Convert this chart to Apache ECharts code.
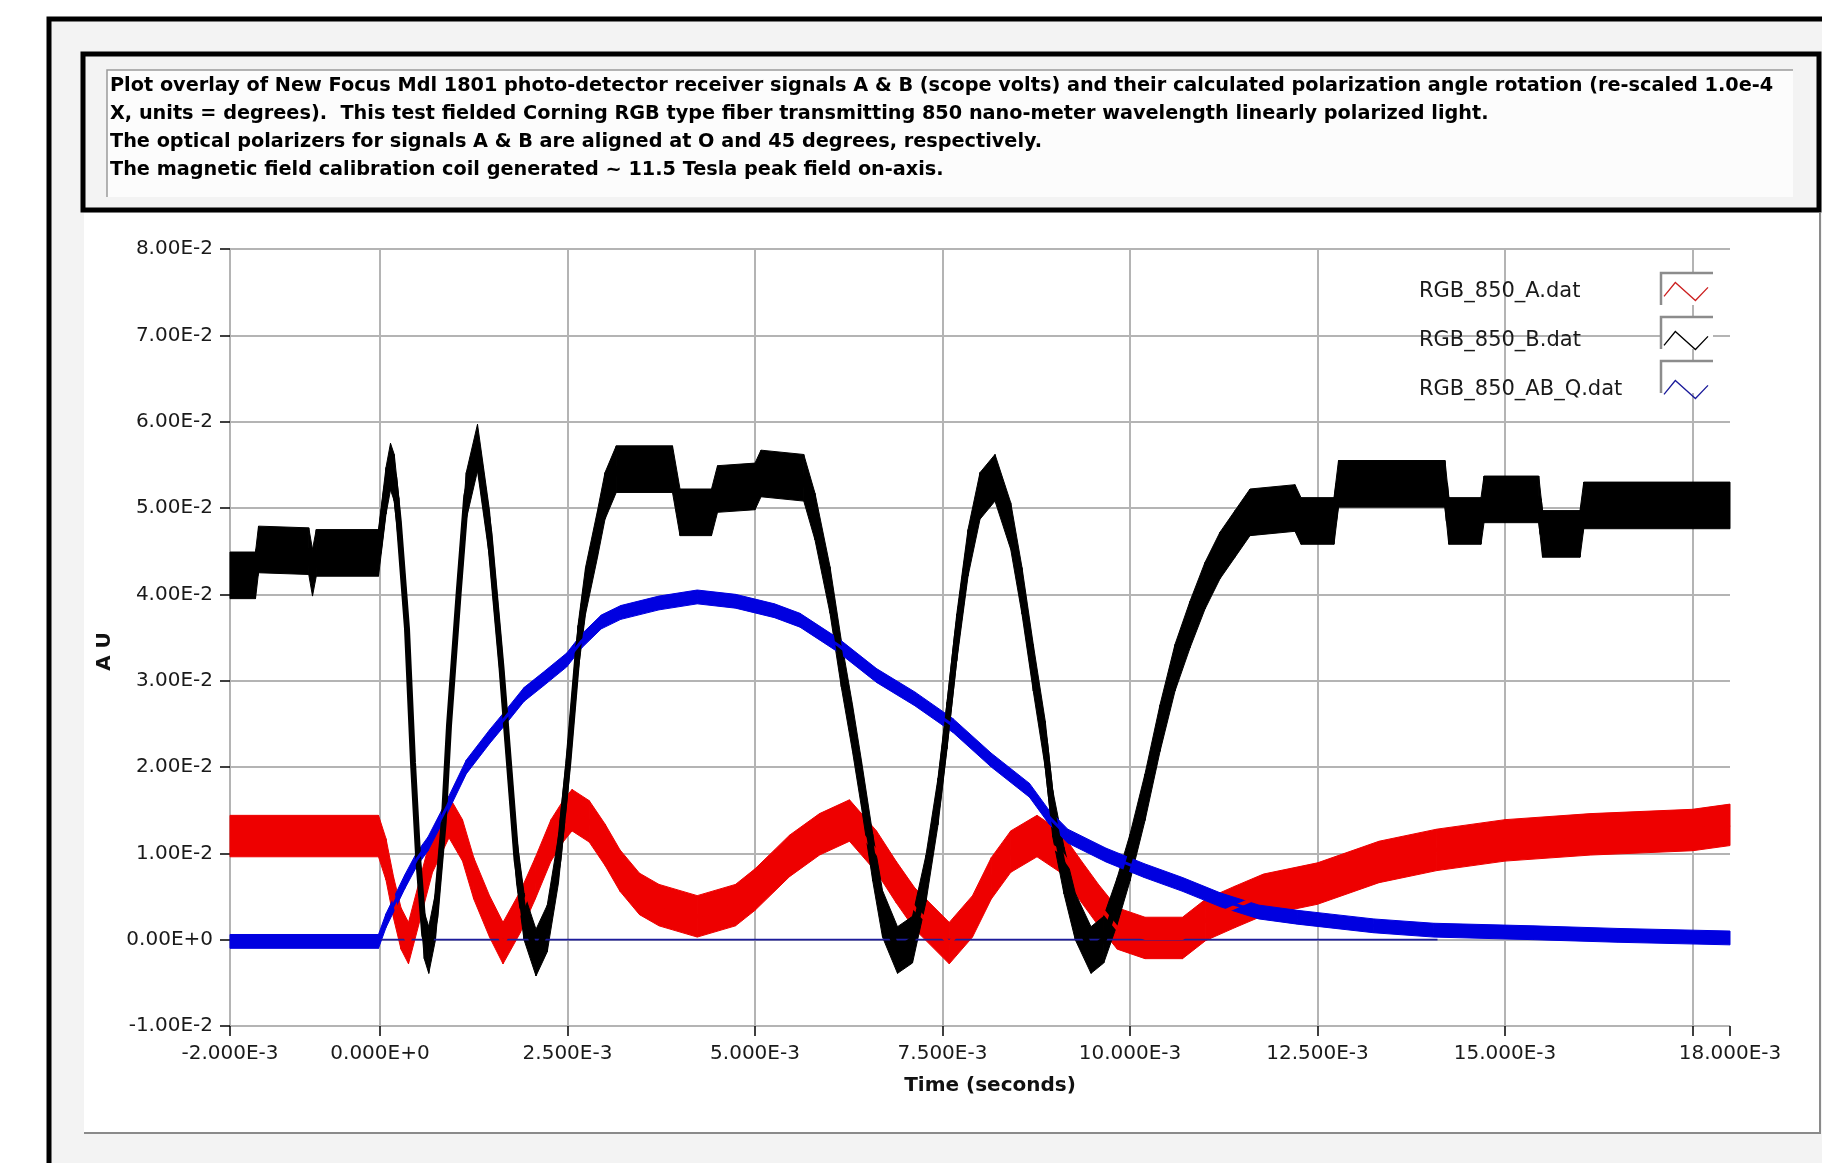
<!DOCTYPE html>
<html>
<head>
<meta charset="utf-8">
<script src="https://cdn.jsdelivr.net/npm/echarts/dist/echarts.min.js"></script>
<style>
html,body{margin:0;padding:0;background:#ffffff;}
#chart{width:1822px;height:1163px;}
</style>
</head>
<body>
<div id="chart"></div>
<script>
// ---------------- text ----------------
const titleLines = [
  "Plot overlay of New Focus Mdl 1801 photo-detector receiver signals A & B (scope volts) and their calculated polarization angle rotation (re-scaled 1.0e-4",
  "X, units = degrees).  This test fielded Corning RGB type fiber transmitting 850 nano-meter wavelength linearly polarized light.",
  "The optical polarizers for signals A & B are aligned at O and 45 degrees, respectively.",
  "The magnetic field calibration coil generated ~ 11.5 Tesla peak field on-axis."
];
const xAxisName = "Time (seconds)";
const yAxisName = "A U";
const seriesNames = ["RGB_850_A.dat", "RGB_850_B.dat", "RGB_850_AB_Q.dat"];

// ---------------- axis ticks ----------------
const xTickValues  = [-0.002, 0, 0.0025, 0.005, 0.0075, 0.01, 0.0125, 0.015, 0.0175, 0.018];
const xLabelValues = [-0.002, 0, 0.0025, 0.005, 0.0075, 0.01, 0.0125, 0.015, 0.018];
const yMin = -0.01, yMax = 0.08, yStep = 0.01;

// ---------------- data (time in ms, values in AU) ----------------
// Signal A (red)
const timeA_ms = [-2.0,-0.02,0.08,0.18,0.28,0.38,0.54,0.70,0.92,1.10,1.25,1.46,1.64,1.87,2.07,2.28,2.44,2.56,2.79,3.00,3.20,3.46,3.72,4.23,4.74,5.00,5.26,5.46,5.86,6.26,6.62,6.88,7.13,7.59,7.90,8.15,8.41,8.76,9.07,9.32,9.58,9.83,10.20,10.70,11.01,11.40,11.78,12.50,13.32,14.09,15.00,16.14,17.50,18.00];
const valueA   = [0.0120,0.0120,0.0093,0.0049,0.0013,-0.0004,0.0049,0.0102,0.0142,0.0115,0.0071,0.0027,-0.0004,0.0032,0.0071,0.0115,0.0137,0.0150,0.0137,0.0110,0.0080,0.0053,0.0040,0.0027,0.0040,0.0058,0.0080,0.0097,0.0122,0.0138,0.0102,0.0067,0.0036,-0.0004,0.0027,0.0071,0.0102,0.0120,0.0102,0.0071,0.0040,0.0013,0.0002,0.0002,0.0023,0.0038,0.0052,0.0065,0.0090,0.0104,0.0115,0.0122,0.0127,0.0133];
const noiseA = 0.0024; // half width of the noise band

// Signal B (black)
const timeB_ms = [-2.0,-1.66,-1.62,-0.95,-0.90,-0.85,-0.02,0.08,0.14,0.19,0.25,0.36,0.44,0.51,0.59,0.65,0.74,0.85,0.92,1.05,1.15,1.30,1.46,1.62,1.72,1.82,1.92,2.08,2.23,2.38,2.51,2.64,2.74,2.90,3.00,3.15,3.90,4.00,4.42,4.50,5.00,5.08,5.65,5.80,6.00,6.15,6.30,6.42,6.57,6.70,6.90,7.10,7.28,7.44,7.56,7.69,7.84,8.00,8.20,8.41,8.56,8.71,8.87,8.97,9.12,9.27,9.48,9.65,9.83,10.00,10.20,10.40,10.60,10.80,11.00,11.20,11.40,11.60,12.20,12.28,12.72,12.78,14.20,14.25,14.68,14.72,15.45,15.50,16.00,16.05,18.00];
const valueB   = [0.0422,0.0422,0.0452,0.0450,0.0425,0.0448,0.0448,0.0520,0.0548,0.0535,0.0485,0.0360,0.0205,0.0093,0.0005,-0.0012,0.0027,0.0137,0.0248,0.0403,0.0514,0.0570,0.0470,0.0315,0.0204,0.0093,0.0027,-0.0015,0.0013,0.0093,0.0204,0.0337,0.0404,0.0470,0.0514,0.0545,0.0545,0.0495,0.0495,0.0522,0.0525,0.0540,0.0535,0.0490,0.0405,0.0320,0.0245,0.0180,0.0095,0.0030,-0.0012,0.0000,0.0071,0.0160,0.0248,0.0350,0.0448,0.0514,0.0535,0.0479,0.0404,0.0315,0.0226,0.0146,0.0080,0.0027,-0.0012,0.0000,0.0045,0.0095,0.0165,0.0245,0.0315,0.0365,0.0410,0.0445,0.0470,0.0495,0.0500,0.0485,0.0485,0.0528,0.0528,0.0485,0.0485,0.0510,0.0510,0.0470,0.0470,0.0503,0.0503];
const noiseB = 0.0027;

// Signal AB_Q (blue, rescaled polarization angle)
const timeQ_ms = [-2.0,-0.02,0.08,0.18,0.33,0.49,0.64,0.90,1.15,1.46,1.67,1.92,2.18,2.49,2.69,2.95,3.21,3.72,4.23,4.74,5.26,5.60,6.11,6.62,7.13,7.64,8.15,8.66,8.92,9.17,9.68,10.19,10.70,11.21,11.72,12.23,12.74,13.25,14.05,15.38,16.50,18.00];
const valueQ   = [-0.0002,-0.0002,0.0022,0.0040,0.0067,0.0093,0.0111,0.0155,0.0200,0.0235,0.0257,0.0284,0.0302,0.0324,0.0346,0.0368,0.0379,0.0390,0.0397,0.0392,0.0381,0.0370,0.0341,0.0306,0.0279,0.0248,0.0208,0.0173,0.0142,0.0120,0.0098,0.0080,0.0064,0.0046,0.0032,0.0026,0.0021,0.0016,0.0011,0.0008,0.0005,0.0002];
const noiseQ = 0.0008;
// thin zero line drawn with the Q trace
const timeQzero_ms = [0.0, 14.1];
const valueQzero   = [0.0, 0.0];

// ---------------- styles ----------------
const colA = "#ee0000", colB = "#000000", colQ = "#0000e0";
const legendColors = ["#cc2020", "#000000", "#1a1a9a"];
const FONT = "DejaVu Sans";

// fit title font to the reference line width
const mctx = document.createElement("canvas").getContext("2d");
mctx.font = 'bold 20px "DejaVu Sans"';
const w0 = mctx.measureText(titleLines[0]).width;
const titleFs = Math.max(16, Math.min(20, 20 * 1665 / w0));

function xFmt(v) {
  if (Math.abs(v) < 1e-12) return "0.000E+0";
  return (v * 1000).toFixed(3) + "E-3";
}
function yFmt(v) {
  if (Math.abs(v) < 1e-12) return "0.00E+0";
  return (Math.round(v * 10000) / 100).toFixed(2) + "E-2";
}

// noise band: one quadrilateral per segment, placed through the axes (api.coord)
function bandSeries(key, tms, vals, hw, color) {
  const segs = [];
  for (let i = 0; i < tms.length - 1; i++) {
    segs.push([tms[i] / 1000, vals[i] - hw, vals[i] + hw, tms[i + 1] / 1000, vals[i + 1] - hw, vals[i + 1] + hw]);
  }
  return {
    type: "custom", name: key + "_band", silent: true, data: segs,
    encode: { x: [0, 3], y: [1, 2, 4, 5] },
    renderItem: function (params, api) {
      const a = api.coord([api.value(0), api.value(1)]);
      const b = api.coord([api.value(3), api.value(4)]);
      const c = api.coord([api.value(3), api.value(5)]);
      const d = api.coord([api.value(0), api.value(2)]);
      return { type: "polygon", shape: { points: [a, b, c, d] },
               style: { fill: color, stroke: color, lineWidth: 1 } };
    }
  };
}
function lineSeries(name, tms, vals, color, lw) {
  return { type: "line", name: name, data: tms.map((t, i) => [t / 1000, vals[i]]),
           symbol: "none", silent: true, lineStyle: { color: color, width: lw }, itemStyle: { color: color } };
}

const series = [
  lineSeries("Q_zero", timeQzero_ms, valueQzero, "#1c1c9c", 1.6),
  bandSeries("A", timeA_ms, valueA, noiseA, colA),
  lineSeries(seriesNames[0], timeA_ms, valueA, colA, 4),
  bandSeries("B", timeB_ms, valueB, noiseB, colB),
  lineSeries(seriesNames[1], timeB_ms, valueB, colB, 6),
  bandSeries("Q", timeQ_ms, valueQ, noiseQ, colQ),
  lineSeries(seriesNames[2], timeQ_ms, valueQ, colQ, 3)
];

// decorative panels (frames like the original front panel)
const legendCy = [289, 333, 377];
const graphics = [
  { type: "rect", z: -10, shape: { x: 49, y: 19, width: 1800, height: 1200 },
    style: { fill: "#f3f3f3", stroke: "#000", lineWidth: 5 } },
  { type: "rect", z: -9, shape: { x: 84, y: 213, width: 1736, height: 920 },
    style: { fill: "#ffffff", stroke: null } },
  { type: "polyline", z: -8, shape: { points: [[84, 1133], [1820, 1133], [1820, 213]] },
    style: { fill: null, stroke: "#8a8a8a", lineWidth: 2 } },
  { type: "rect", z: -9, shape: { x: 83, y: 54, width: 1736, height: 156 },
    style: { fill: "#f3f3f3", stroke: "#000", lineWidth: 5 } },
  { type: "rect", z: -8, shape: { x: 107, y: 70, width: 1686, height: 127 },
    style: { fill: "#fcfcfc", stroke: null } },
  { type: "polyline", z: -7, shape: { points: [[107, 197], [107, 70], [1793, 70]] },
    style: { fill: null, stroke: "#9a9a9a", lineWidth: 1.5 } }
];
legendCy.forEach(cy => {
  graphics.push({ type: "rect", z: 3, shape: { x: 1661, y: cy - 16, width: 52, height: 32 },
    style: { fill: "#ffffff", stroke: null } });
  graphics.push({ type: "polyline", z: 3, shape: { points: [[1661, cy + 16], [1661, cy - 16], [1713, cy - 16]] },
    style: { fill: null, stroke: "#8c8c8c", lineWidth: 2.5 } });
});

const chart = echarts.init(document.getElementById("chart"), null, { renderer: "canvas" });
chart.setOption({
  animation: false,
  backgroundColor: "transparent",
  graphic: { elements: graphics },
  title: {
    text: titleLines.join("\n"),
    left: 110, top: 72, padding: 0,
    textStyle: { fontFamily: FONT, fontWeight: "bold", fontSize: titleFs, lineHeight: 28, color: "#000" }
  },
  legend: {
    orient: "vertical", left: 1419, top: 280, padding: 0,
    align: "right", itemWidth: 44, itemHeight: 18, itemGap: 26,
    selectedMode: false, symbolKeepAspect: false,
    icon: "path://M0,34 L36,0 L100,44 L140,12",
    itemStyle: { color: "none", borderWidth: 1.3 },
    formatter: n => "{n|" + n + "}",
    textStyle: { rich: { n: { width: 240, align: "left", fontSize: 21, lineHeight: 18, fontFamily: FONT, color: "#1a1a1a" } } },
    data: seriesNames.map((n, i) => ({ name: n, itemStyle: { color: "none", borderColor: legendColors[i], borderWidth: 1.3 } }))
  },
  grid: { left: 230, right: 92, top: 249, bottom: 137, containLabel: false },
  xAxis: {
    type: "value", min: -0.002, max: 0.018,
    name: xAxisName, nameLocation: "middle", nameGap: 50,
    nameTextStyle: { fontFamily: FONT, fontWeight: "bold", fontSize: 20, color: "#111", padding: [0, 0, 0, 20] },
    axisLine: { show: false, onZero: false },
    axisTick: { show: true, customValues: xTickValues, length: 10, lineStyle: { color: "#000", width: 1.5 } },
    axisLabel: { customValues: xLabelValues, formatter: xFmt, margin: 18, fontFamily: FONT, fontSize: 20, color: "#1a1a1a" },
    splitLine: { show: true, showMaxLine: false, lineStyle: { color: "#b4b4b4", width: 2 } }
  },
  yAxis: {
    type: "value", min: yMin, max: yMax, interval: yStep,
    name: yAxisName, nameLocation: "middle", nameGap: 115, nameRotate: 90,
    nameTextStyle: { fontFamily: FONT, fontWeight: "bold", fontSize: 20, color: "#111", padding: [0, 28, 0, 0] },
    axisLine: { show: false, onZero: false },
    axisTick: { show: true, length: 10, lineStyle: { color: "#000", width: 1.5 } },
    axisLabel: { formatter: yFmt, margin: 17, fontFamily: FONT, fontSize: 20, color: "#1a1a1a" },
    splitLine: { show: true, lineStyle: { color: "#b4b4b4", width: 2 } }
  },
  series: series
});
</script>
</body>
</html>
